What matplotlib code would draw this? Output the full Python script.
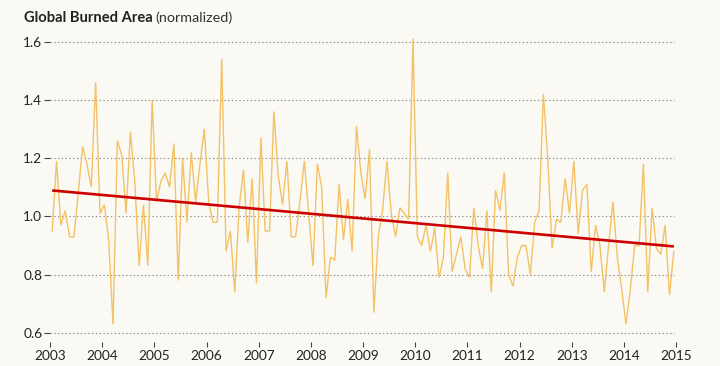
import numpy as np
import matplotlib
matplotlib.use("Agg")
import matplotlib.pyplot as plt

# ---- data (monthly, normalized global burned area) ----
years = list(range(2003, 2015))
v2003 = [0.95, 1.19, 0.97, 1.02, 0.93, 0.93, 1.08, 1.24, 1.18, 1.10, 1.46, 1.01]
v2004 = [1.04, 0.92, 0.63, 1.26, 1.21, 1.01, 1.29, 1.12, 0.83, 1.04, 0.83, 1.40]
v2005 = [1.05, 1.12, 1.15, 1.10, 1.25, 0.78, 1.20, 0.98, 1.22, 1.05, 1.18, 1.30]
v2006 = [1.05, 0.98, 0.98, 1.54, 0.88, 0.95, 0.74, 1.03, 1.16, 0.91, 1.13, 0.77]
v2007 = [1.27, 0.95, 0.95, 1.36, 1.14, 1.04, 1.19, 0.93, 0.93, 1.05, 1.19, 1.01]
v2008 = [0.83, 1.18, 1.10, 0.72, 0.86, 0.85, 1.11, 0.92, 1.06, 0.88, 1.31, 1.15]
v2009 = [1.06, 1.23, 0.67, 0.93, 1.02, 1.19, 1.01, 0.93, 1.03, 1.01, 0.99, 1.61]
v2010 = [0.93, 0.90, 0.97, 0.88, 0.96, 0.79, 0.86, 1.15, 0.81, 0.87, 0.93, 0.82]
v2011 = [0.79, 1.03, 0.90, 0.82, 1.02, 0.74, 1.09, 1.02, 1.15, 0.80, 0.76, 0.86]
v2012 = [0.90, 0.90, 0.80, 0.98, 1.02, 1.42, 1.20, 0.89, 0.99, 0.98, 1.13, 1.01]
v2013 = [1.19, 0.94, 1.09, 1.11, 0.81, 0.97, 0.90, 0.74, 0.90, 1.05, 0.86, 0.75]
v2014 = [0.63, 0.75, 0.90, 0.90, 1.18, 0.74, 1.03, 0.89, 0.87, 0.97, 0.73, 0.88]
values = v2003 + v2004 + v2005 + v2006 + v2007 + v2008 + v2009 + v2010 + v2011 + v2012 + v2013 + v2014

trend_values = [1.089, 0.897]          # trend line at first and last month
yticks = [0.6, 0.8, 1.0, 1.2, 1.4, 1.6]
xticks = list(range(2003, 2016))

# ---- layout ----
W, H = 720, 366
BG = "#FBF9F4"
plt.rcParams['font.family'] = ['Lato', 'DejaVu Sans']

fig = plt.figure(figsize=(W / 100, H / 100), dpi=100, facecolor=BG)
ax = fig.add_axes([50 / W, (H - 342) / H, (676 - 50) / W, (342 - 30) / H])
ax.set_facecolor(BG)

n = len(values)
dates = 2003 + (np.arange(n) + 0.5) / 12.0

ax.plot(dates, values, color="#F3BF5E", lw=1.0, alpha=0.95, zorder=3,
        solid_joinstyle='miter')
ax.plot([dates[0], dates[-1]], trend_values, color="#CC0000", lw=1.9, zorder=4,
        solid_capstyle='butt')

ax.set_xlim(2003, 2015)
ax.set_ylim(0.6 - 9 / 291.5, 1.6 + 11.5 / 291.5)

for y in yticks:
    ax.axhline(y, xmin=0, xmax=624 / 626, color="#8a8a8a", lw=0.8,
               dashes=(1.2, 2.2), zorder=1)

ax.set_yticks(yticks)
ax.set_yticklabels([f"{t:.1f}" for t in yticks])
ax.set_xticks(xticks)
ax.set_xticklabels([str(t) for t in xticks])

for s in ax.spines.values():
    s.set_visible(False)

ax.tick_params(axis='y', length=4, width=0.8, color="#444444", pad=1.5,
               labelsize=9.8, labelcolor="#222222", direction='out')
ax.tick_params(axis='x', length=3.5, width=0.8, color="#444444", pad=2,
               labelsize=9.8, labelcolor="#222222", direction='out')

# ---- title ----
t1 = fig.text(24 / W, 1 - 18 / H, "Global Burned Area", fontsize=10.6,
              fontweight='bold', color="#222222", va='center', ha='left')
fig.canvas.draw()
bb = t1.get_window_extent(renderer=fig.canvas.get_renderer())
fig.text(bb.x1 / W + 3 / W, 1 - 18 / H, "(normalized)", fontsize=10.4,
         color="#333333", va='center', ha='left')

fig.savefig("out.png", dpi=100, facecolor=BG)
